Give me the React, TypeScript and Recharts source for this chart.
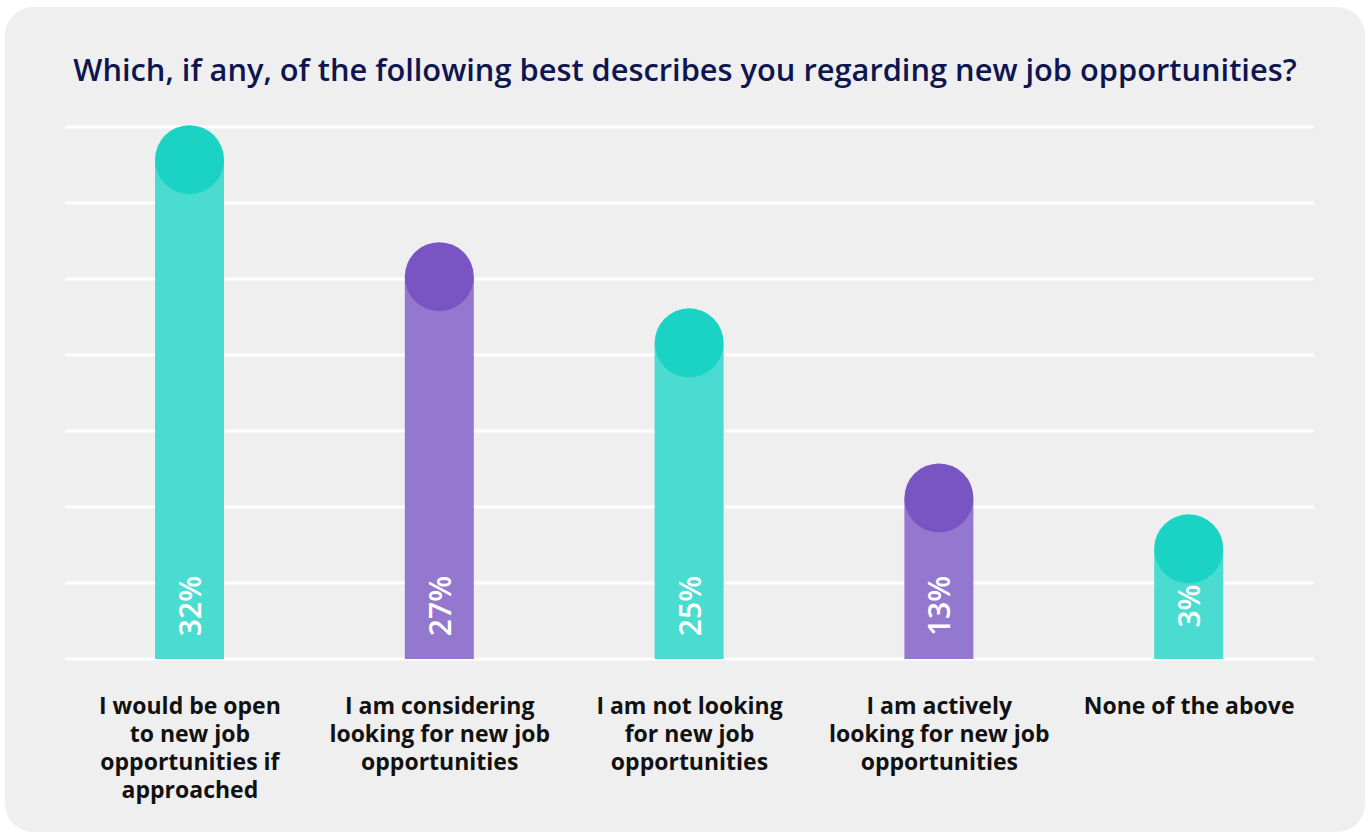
import React from 'react';
import { BarChart, Bar, XAxis, YAxis, CartesianGrid, LabelList } from 'recharts';

// answers, shown share, and the drawn height of each bar (in gridline steps, as in the picture)
const categories = [
  'I would be open\nto new job\nopportunities if\napproached',
  'I am considering\nlooking for new job\nopportunities',
  'I am not looking\nfor new job\nopportunities',
  'I am actively\nlooking for new job\nopportunities',
  'None of the above',
];
const shares = [32, 27, 25, 13, 3];
const barHeights = [6.57, 5.03, 4.16, 2.12, 1.45];
const gridTicks = [0, 1, 2, 3, 4, 5, 6, 7];

const TEAL = { bar: '#4adcd0', cap: '#1ad3c5' };
const PURPLE = { bar: '#9478cf', cap: '#7955c3' };
const palette = [TEAL, PURPLE, TEAL, PURPLE, TEAL];

const data = categories.map((name, i) => ({ name, height: barHeights[i], share: shares[i], idx: i }));

const FONT = '"Open Sans", Lato, sans-serif';

const PillBar = (props: any) => {
  const { x, y, width, height, payload } = props;
  const c = palette[payload.idx];
  const cx = x + width / 2;
  return (
    <g>
      <rect x={x} y={y} width={width} height={height} fill={c.bar} />
      <circle cx={cx} cy={y} r={width / 2} fill={c.cap} />
    </g>
  );
};

const ShareLabel = (props: any) => {
  const { x, y, width, height, value } = props;
  const cx = x + width / 2;
  const cy = y + height - 53;
  return (
    <text
      x={cx}
      y={cy}
      transform={`rotate(-90 ${cx} ${cy})`}
      textAnchor="middle"
      dominantBaseline="central"
      fill="#ffffff"
      fontSize={30}
      fontWeight={600}
      fontFamily={FONT}
    >
      {value}%
    </text>
  );
};

// multi-line category label, one text element with a tspan per line
const CategoryTick = (props: any) => {
  const { x, y, payload } = props;
  const lines = String(payload.value).split('\n');
  return (
    <text
      x={x}
      y={y + 55}
      textAnchor="middle"
      fill="#111111"
      fontSize={23}
      fontWeight={700}
      fontFamily={FONT}
    >
      {lines.map((line, i) => (
        <tspan key={i} x={x} dy={i === 0 ? 0 : 28}>
          {line}
        </tspan>
      ))}
    </text>
  );
};

const App: React.FC = () => {
  return (
    <div
      style={{
        position: 'absolute',
        left: 5,
        top: 7,
        width: 1360,
        height: 825,
        borderRadius: 28,
        background: '#efefef',
      }}
    >
      <div
        style={{
          position: 'absolute',
          top: 44,
          left: 0,
          width: 1360,
          textAlign: 'center',
          fontFamily: FONT,
          fontSize: 30.8,
          lineHeight: '36px',
          fontWeight: 600,
          color: '#0e1550',
          whiteSpace: 'nowrap',
        }}
      >
        Which, if any, of the following best describes you regarding new job opportunities?
      </div>
      <div style={{ position: 'absolute', left: 0, top: 0 }}>
        <BarChart
          width={1360}
          height={825}
          data={data}
          margin={{ top: 120, left: 60, right: 51, bottom: 23 }}
        >
          <CartesianGrid vertical={false} stroke="#ffffff" strokeWidth={3} />
          <YAxis hide domain={[0, 7]} ticks={gridTicks} />
          <XAxis
            dataKey="name"
            height={150}
            axisLine={false}
            tickLine={false}
            tickSize={0}
            tickMargin={0}
            interval={0}
            tick={<CategoryTick />}
          />
          <Bar dataKey="height" barSize={69} shape={<PillBar />} isAnimationActive={false}>
            <LabelList dataKey="share" content={<ShareLabel />} />
          </Bar>
        </BarChart>
      </div>
    </div>
  );
};

export default App;
